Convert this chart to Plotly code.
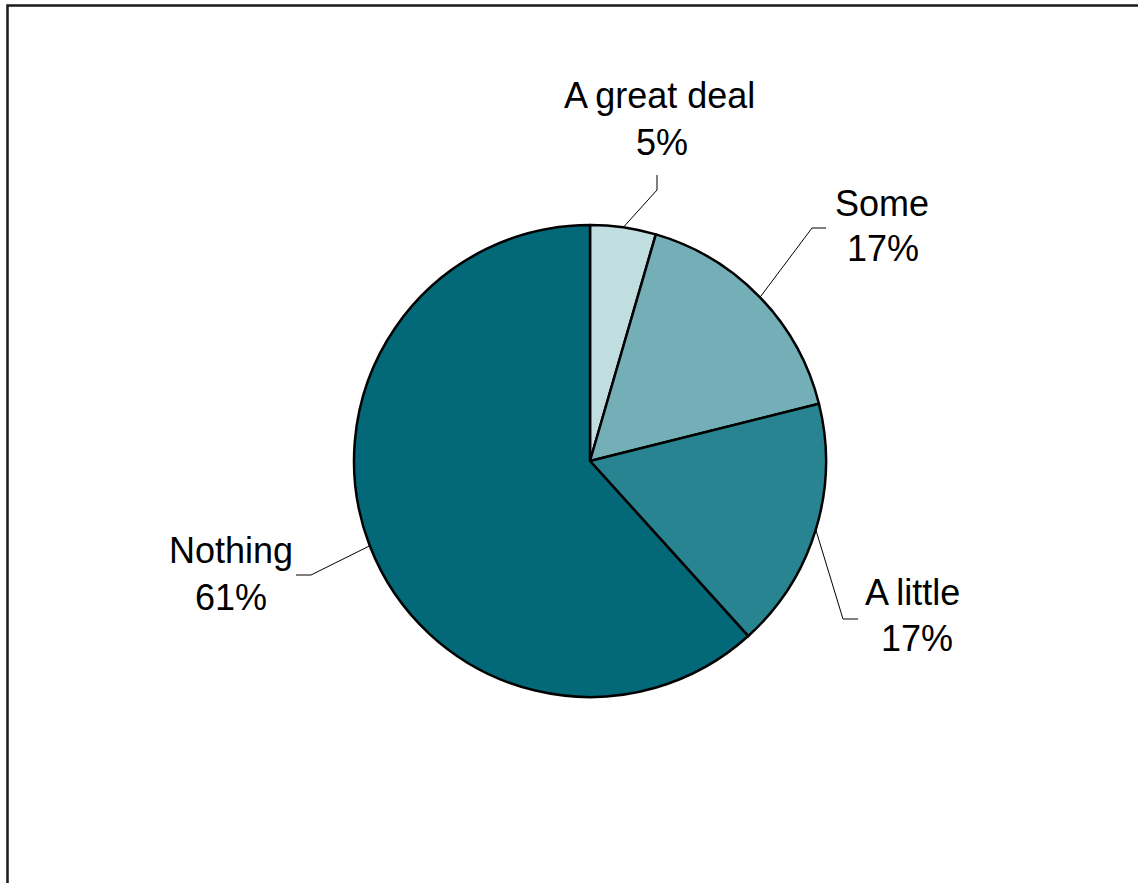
import math
import plotly.graph_objects as go

# ---- data ----
categories = ["A great deal", "Some", "A little", "Nothing"]
values = [4.5, 16.6, 17.2, 61.7]
pct_labels = ["5%", "17%", "17%", "61%"]
colors = ["#c0dde0", "#74afb8", "#288490", "#036878"]

W, H = 1138, 883
CX, CY, R = 590, 461, 236  # pie centre / radius in pixels
FONT = dict(size=36, color="#000000", family="Liberation Sans, Arial, sans-serif")


def px(x):
    return x / W


def py(y):
    return 1 - y / H


fig = go.Figure(go.Pie(
    labels=categories,
    values=values,
    sort=False,
    direction="clockwise",
    rotation=0,
    textinfo="none",
    hoverinfo="label+percent",
    marker=dict(colors=colors, line=dict(color="#000000", width=2.5)),
    domain=dict(x=[px(CX - R), px(CX + R)], y=[py(CY + R), py(CY - R)]),
    showlegend=False,
))

# label layout: (elbow point, end point, name centre, pct centre)
label_layout = [
    ((657, 190), (657, 175), (659, 95), (662, 142)),
    ((812, 228), (826, 228), (882, 203), (883, 248)),
    ((843, 619), (858, 619), (912, 592), (917, 638)),
    ((311, 575), (296, 575), (231, 550), (231, 597)),
]

total = sum(values)
cum = 0.0
shapes = []
annotations = []
for name, v, pl, lay in zip(categories, values, pct_labels, label_layout):
    mid = (cum + v / 2) / total * 2 * math.pi
    cum += v
    sx = CX + R * math.sin(mid)
    sy = CY - R * math.cos(mid)
    (ex, ey), (tx, ty), (nx, ny), (qx, qy) = lay
    path = f"M {px(sx)} {py(sy)} L {px(ex)} {py(ey)} L {px(tx)} {py(ty)}"
    shapes.append(dict(type="path", xref="paper", yref="paper", path=path,
                       line=dict(color="#000000", width=1)))
    display = name.replace("A ", "A\u2009") if name.startswith("A ") else name
    annotations.append(dict(x=px(nx), y=py(ny), xref="paper", yref="paper",
                            text=display, showarrow=False,
                            xanchor="center", yanchor="middle", font=FONT))
    annotations.append(dict(x=px(qx), y=py(qy), xref="paper", yref="paper",
                            text=pl, showarrow=False,
                            xanchor="center", yanchor="middle", font=FONT))

# chart frame (top and left edges visible)
shapes.append(dict(type="path", xref="paper", yref="paper",
                   path=f"M {px(7.5)} {py(890)} L {px(7.5)} {py(5.5)} L {px(1145)} {py(5.5)}",
                   line=dict(color="#1a1a1a", width=2.5)))

fig.update_layout(
    width=W, height=H,
    margin=dict(l=0, r=0, t=0, b=0),
    paper_bgcolor="#ffffff",
    plot_bgcolor="#ffffff",
    shapes=shapes,
    annotations=annotations,
)

fig.write_html(
    "out.html",
    config={"displayModeBar": False},
    post_script="document.body.style.margin='0';document.body.style.overflow='hidden';",
)
